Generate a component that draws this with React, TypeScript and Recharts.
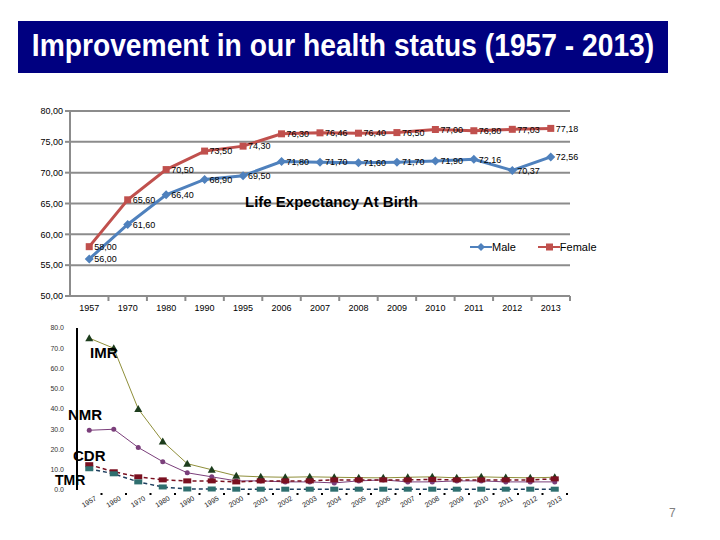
import React from 'react'
import {
  LineChart,
  Line,
  XAxis,
  YAxis,
  CartesianGrid,
  Legend,
  LabelList,
} from 'recharts'

// life expectancy at birth
const leYears = ['1957', '1970', '1980', '1990', '1995', '2006', '2007', '2008', '2009', '2010', '2011', '2012', '2013']
const maleLE = [56.0, 61.6, 66.4, 68.9, 69.5, 71.8, 71.7, 71.6, 71.7, 71.9, 72.16, 70.37, 72.56]
const femaleLE = [58.0, 65.6, 70.5, 73.5, 74.3, 76.3, 76.46, 76.4, 76.5, 77.0, 76.8, 77.03, 77.18]
const leTicks = [50, 55, 60, 65, 70, 75, 80]

// mortality rates (per 1000)
const mortYears = [
  '1957', '1960', '1970', '1980', '1990', '1995', '2000', '2001', '2002', '2003',
  '2004', '2005', '2006', '2007', '2008', '2009', '2010', '2011', '2012', '2013',
]
const imr = [75, 70, 40, 24, 13, 10, 7, 6.5, 6.3, 6.5, 6.3, 6.1, 6.0, 6.3, 6.5, 6.0, 6.5, 6.2, 6.0, 6.3]
const nmr = [29.5, 30, 21, 14, 8.5, 6.5, 4.5, 4.5, 4, 4, 3.5, 4.5, 5, 4, 4, 4.5, 4.5, 4, 4, 4]
const cdr = [12.5, 9, 6.5, 5, 4.5, 4.5, 4, 4.5, 4.5, 4.5, 5, 5, 5, 5, 5.2, 5, 5, 5, 5, 5.5]
const tmr = [10.5, 8, 4, 1.5, 0.5, 0.5, 0.4, 0.4, 0.4, 0.4, 0.4, 0.4, 0.4, 0.4, 0.4, 0.4, 0.4, 0.4, 0.4, 0.4]
const mortTicks = [0, 10, 20, 30, 40, 50, 60, 70, 80]

const leData = leYears.map((year, i) => ({ year, male: maleLE[i], female: femaleLE[i] }))
const mortData = mortYears.map((year, i) => ({ year, imr: imr[i], nmr: nmr[i], cdr: cdr[i], tmr: tmr[i] }))

const MALE = '#4F81BD'
const FEMALE = '#C0504D'
const GRID = '#8c8c8c'
const FONT = "'Liberation Sans', Arial, sans-serif"

const comma = (v: number) => v.toFixed(2).replace('.', ',')

const TOP_STEP = 500 / leYears.length
const BOT_STEP = 490 / mortYears.length

// eslint-disable-next-line @typescript-eslint/no-explicit-any
const Diamond = (p: any) => {
  const { cx, cy, index } = p
  return <path key={index} d={`M${cx},${cy - 4.5}L${cx + 4.5},${cy}L${cx},${cy + 4.5}L${cx - 4.5},${cy}Z`} fill={MALE} />
}

// eslint-disable-next-line @typescript-eslint/no-explicit-any
const Square = (p: any) => {
  const { cx, cy, index } = p
  return <rect key={index} x={cx - 3.5} y={cy - 3.5} width={7} height={7} fill={FEMALE} />
}

// eslint-disable-next-line @typescript-eslint/no-explicit-any
const LeTick = (p: any) => {
  const { x, y, payload } = p
  return (
    <g>
      <text x={x} y={y + 7} textAnchor="middle" fontSize={9} fontFamily={FONT} fill="#000">
        {payload.value}
      </text>
      <line x1={x + TOP_STEP / 2} x2={x + TOP_STEP / 2} y1={y - 8} y2={y - 3} stroke={GRID} strokeWidth={2} />
    </g>
  )
}

const LeLegend = () => (
  <div style={{ display: 'flex', fontFamily: FONT, fontSize: 11, gap: 22 }}>
    {[
      { name: 'Male', color: MALE, sq: false },
      { name: 'Female', color: FEMALE, sq: true },
    ].map((it) => (
      <div key={it.name} style={{ display: 'flex', alignItems: 'center' }}>
        <svg width={22} height={10}>
          <line x1={0} x2={22} y1={5} y2={5} stroke={it.color} strokeWidth={2} />
          {it.sq ? (
            <rect x={8} y={1.5} width={7} height={7} fill={it.color} />
          ) : (
            <path d="M11,1L15,5L11,9L7,5Z" fill={it.color} />
          )}
        </svg>
        <span>{it.name}</span>
      </div>
    ))}
  </div>
)

// eslint-disable-next-line @typescript-eslint/no-explicit-any
const makeDot = (shape: string, color: string) => (p: any) => {
  const { cx, cy, index } = p
  if (shape === 'tri')
    return <path key={index} d={`M${cx},${cy - 4}L${cx + 4},${cy + 3}L${cx - 4},${cy + 3}Z`} fill={color} />
  if (shape === 'rect')
    return <rect key={index} x={cx - 4} y={cy - 2.5} width={8} height={5} fill={color} />
  return <circle key={index} cx={cx} cy={cy} r={2.5} fill={color} />
}

// eslint-disable-next-line @typescript-eslint/no-explicit-any
const MortTick = (p: any) => {
  const { x, y, payload } = p
  return (
    <g>
      <text
        x={x}
        y={y + 6}
        textAnchor="middle"
        fontSize={7}
        fontFamily={FONT}
        fill="#222"
        transform={`rotate(-30 ${x} ${y + 4})`}
      >
        {payload.value}
      </text>
      <rect x={x + BOT_STEP / 2 - 1} y={y - 5} width={2} height={2} fill="#000" />
    </g>
  )
}

const bigLabel: React.CSSProperties = {
  position: 'absolute',
  fontFamily: FONT,
  fontWeight: 700,
  fontSize: 15,
  lineHeight: '15px',
  color: '#000',
}

export default function App() {
  return (
    <div style={{ position: 'absolute', left: 0, top: 0, width: 720, height: 540, background: '#fff', overflow: 'hidden' }}>
      <div
        style={{
          position: 'absolute',
          left: 18,
          top: 21,
          width: 650,
          height: 52,
          background: '#000080',
          color: '#fff',
          fontFamily: FONT,
          fontWeight: 700,
          fontSize: 31,
          lineHeight: '50px',
          whiteSpace: 'nowrap',
        }}
      >
        <span
          style={{
            position: 'absolute',
            left: '50%',
            top: 0,
            transform: 'translateX(-50%) scaleX(0.91)',
          }}
        >
          Improvement in our health status (1957 - 2013)
        </span>
      </div>

      <div style={{ position: 'absolute', left: 0, top: 80 }}>
        <LineChart width={620} height={240} data={leData} margin={{ top: 19, right: 50, bottom: 4, left: 20 }}>
          <CartesianGrid vertical={false} stroke={GRID} strokeWidth={2} />
          <XAxis
            dataKey="year"
            height={20}
            padding={{ left: TOP_STEP / 2, right: TOP_STEP / 2 }}
            axisLine={{ stroke: GRID, strokeWidth: 2 }}
            tickLine={false}
            tick={<LeTick />}
            interval={0}
          />
          <YAxis
            width={50}
            domain={[50, 80]}
            ticks={leTicks}
            tickFormatter={comma}
            axisLine={{ stroke: GRID, strokeWidth: 2 }}
            tickLine={{ stroke: GRID, strokeWidth: 2 }}
            tickSize={5}
            tick={{ fontSize: 9, fill: '#000', fontFamily: FONT }}
          />
          <Legend
            verticalAlign="top"
            content={<LeLegend />}
            wrapperStyle={{ position: 'absolute', left: 470, top: 161, width: 'auto' }}
          />
          <Line
            dataKey="male"
            name="Male"
            stroke={MALE}
            strokeWidth={3}
            dot={Diamond}
            isAnimationActive={false}
          >
            <LabelList dataKey="male" position="right" formatter={comma} fontSize={9} fill="#000" fontFamily={FONT} />
          </Line>
          <Line
            dataKey="female"
            name="Female"
            stroke={FEMALE}
            strokeWidth={3}
            dot={Square}
            isAnimationActive={false}
          >
            <LabelList dataKey="female" position="right" formatter={comma} fontSize={9} fill="#000" fontFamily={FONT} />
          </Line>
        </LineChart>
      </div>

      <div
        style={{
          position: 'absolute',
          left: 245,
          top: 193,
          fontFamily: FONT,
          fontWeight: 700,
          fontSize: 15,
          color: '#000',
        }}
      >
        Life Expectancy At Birth
      </div>

      <div style={{ position: 'absolute', left: 0, top: 310 }}>
        <LineChart width={620} height={230} data={mortData} margin={{ top: 18, right: 53, bottom: 20, left: 27 }}>
          <XAxis
            dataKey="year"
            height={30}
            padding={{ left: BOT_STEP / 2, right: BOT_STEP / 2 }}
            axisLine={false}
            tickLine={false}
            tick={<MortTick />}
            interval={0}
          />
          <YAxis
            width={50}
            domain={[0, 80]}
            ticks={mortTicks}
            tickFormatter={(v: number) => v.toFixed(1)}
            axisLine={{ stroke: '#000', strokeWidth: 2 }}
            tickLine={false}
            tick={{ fontSize: 7, fill: '#333', fontFamily: FONT, dx: -5 }}
          />
          <Line dataKey="imr" stroke="#8f8f3a" strokeWidth={1} dot={makeDot('tri', '#1d3d1d')} isAnimationActive={false} />
          <Line dataKey="nmr" stroke="#7b3f7b" strokeWidth={1} dot={makeDot('circle', '#7b3f7b')} isAnimationActive={false} />
          <Line
            dataKey="cdr"
            stroke="#7a1020"
            strokeWidth={1.5}
            strokeDasharray="4 3"
            dot={makeDot('rect', '#7a1020')}
            isAnimationActive={false}
          />
          <Line
            dataKey="tmr"
            stroke="#1f3f5f"
            strokeWidth={1.5}
            strokeDasharray="4 3"
            dot={makeDot('rect', '#2f6f6f')}
            isAnimationActive={false}
          />
        </LineChart>
      </div>

      <div style={{ ...bigLabel, left: 90, top: 345 }}>IMR</div>
      <div style={{ ...bigLabel, left: 68, top: 407 }}>NMR</div>
      <div style={{ ...bigLabel, left: 73, top: 448 }}>CDR</div>
      <div style={{ ...bigLabel, left: 55, top: 475, fontSize: 14, lineHeight: '10px' }}>TMR</div>

      <div style={{ position: 'absolute', left: 669, top: 506, fontFamily: FONT, fontSize: 12, color: '#7f7f7f' }}>7</div>
    </div>
  )
}
